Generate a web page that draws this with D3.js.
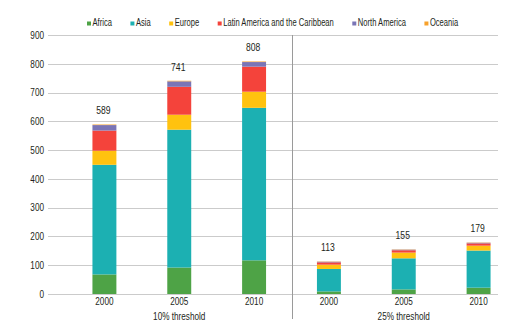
<!DOCTYPE html>
<html>
<head>
<meta charset="utf-8">
<script src="https://cdn.jsdelivr.net/npm/d3@7"></script>
<style>
  html, body { margin: 0; padding: 0; background: #fff; }
  svg text { font-family: 'Liberation Sans', Arial, sans-serif; fill: #231f20; }
</style>
</head>
<body>
<div id="chart"></div>
<script>
// Data
const regions = ['Africa', 'Asia', 'Europe', 'Latin America and the Caribbean', 'North America', 'Oceania']
const colors = ['#4ea346', '#1cb0b2', '#ffc20f', '#f4433b', '#7a75b6', '#f7a12b']
const years = ['2000', '2005', '2010']
const thresholds = ['10% threshold', '25% threshold']

// one value per bar: 10% (2000, 2005, 2010), then 25% (2000, 2005, 2010)
const africa = [68, 92, 117, 9, 16, 22]
const asia = [381, 479, 530, 78, 108, 129]
const europe = [49, 52, 56, 15, 20, 17]
const latinAmerica = [70, 97, 87, 8, 8, 8]
const northAmerica = [19, 19, 16, 2, 2, 2]
const oceania = [2, 2, 2, 1, 1, 1]
const totals = [589, 741, 808, 113, 155, 179]

const yTicks = [0, 100, 200, 300, 400, 500, 600, 700, 800, 900]

const seriesValues = [africa, asia, europe, latinAmerica, northAmerica, oceania]

// build rows for d3.stack
const bars = []
thresholds.forEach((t, ti) => {
    years.forEach((y, yi) => {
        const i = ti * years.length + yi
        const row = { key: t + '|' + y, year: y, threshold: t, total: totals[i] }
        regions.forEach((r, ri) => { row[r] = seriesValues[ri][i] })
        bars.push(row)
    })
})

const width = 532, height = 329
const plot = { left: 48, right: 498, top: 35, bottom: 294 }
// the original uses a condensed face, squeeze a normal one instead
const squeeze = 0.78

const svg = d3.select('#chart').append('svg')
    .attr('width', width)
    .attr('height', height)

// condensed text helper
narrowText = (parent, x, y, str, size, anchor, sx) => {
    return parent.append('text')
        .attr('transform', `translate(${x}, ${y}) scale(${sx || squeeze}, 1)`)
        .attr('text-anchor', anchor || 'start')
        .style('font-size', size + 'px')
        .text(str)
}

const x = d3.scaleBand()
    .domain(bars.map(d => d.key))
    .range([67, 516])
    .paddingInner(0.68)
    .paddingOuter(0.34)

const y = d3.scaleLinear()
    .domain([0, 900])
    .range([plot.bottom, plot.top])

// gridlines
svg.append('g')
    .selectAll('line')
    .data(yTicks)
    .enter().append('line')
        .attr('x1', plot.left)
        .attr('x2', plot.right)
        .attr('y1', d => Math.round(y(d)) + 0.5)
        .attr('y2', d => Math.round(y(d)) + 0.5)
        .attr('stroke', '#cbcbcb')
        .attr('stroke-width', 1)

// y labels
const yLabels = svg.append('g')
yTicks.forEach(t => narrowText(yLabels, 44, y(t) + 3.8, t, 10.5, 'end'))

// divider between the two thresholds
const k3 = bars[2].key, k4 = bars[3].key
const divX = Math.round((x(k3) + x(k4) + x.bandwidth()) / 2) + 0.5
svg.append('line')
    .attr('x1', divX).attr('x2', divX)
    .attr('y1', plot.top)
    .attr('y2', 319)
    .attr('stroke', '#9a9a9a')
    .attr('stroke-width', 1)

// stacked bars
const stack = d3.stack().keys(regions)(bars)
svg.append('g')
    .selectAll('g')
    .data(stack)
    .enter().append('g')
        .attr('fill', (d, i) => colors[i])
    .selectAll('rect')
    .data(d => d)
    .enter().append('rect')
        .attr('x', d => x(d.data.key))
        .attr('width', x.bandwidth())
        .attr('y', d => y(d[1]))
        .attr('height', d => y(d[0]) - y(d[1]))

// totals above bars
const totalLabels = svg.append('g')
bars.forEach(d => narrowText(totalLabels, x(d.key) + x.bandwidth() / 2 - 1, y(d.total) - 10, d.total, 11, 'middle'))

// year labels
const yearLabels = svg.append('g')
bars.forEach(d => narrowText(yearLabels, x(d.key) + x.bandwidth() / 2, 305, d.year, 10.5, 'middle'))

// threshold labels, under the middle bar of each group
const groupLabels = svg.append('g')
thresholds.forEach((t, i) => {
    const mid = bars[i * years.length + 1]
    narrowText(groupLabels, x(mid.key) + x.bandwidth() / 2, 319.5, t, 10.5, 'middle')
})

// legend
const legendSqueeze = 0.76
const legend = svg.append('g').attr('transform', 'translate(87, 25.5)')
let lx = 0
regions.forEach((r, i) => {
    const item = legend.append('g').attr('transform', `translate(${lx}, 0)`)
    item.append('rect')
        .attr('x', 0).attr('y', -4)
        .attr('width', 4).attr('height', 4)
        .attr('fill', colors[i])
    const txt = narrowText(item, 5.5, 0, r, 10, 'start', legendSqueeze)
    lx += 5.5 + txt.node().getComputedTextLength() * legendSqueeze + 18.5
})
</script>
</body>
</html>
